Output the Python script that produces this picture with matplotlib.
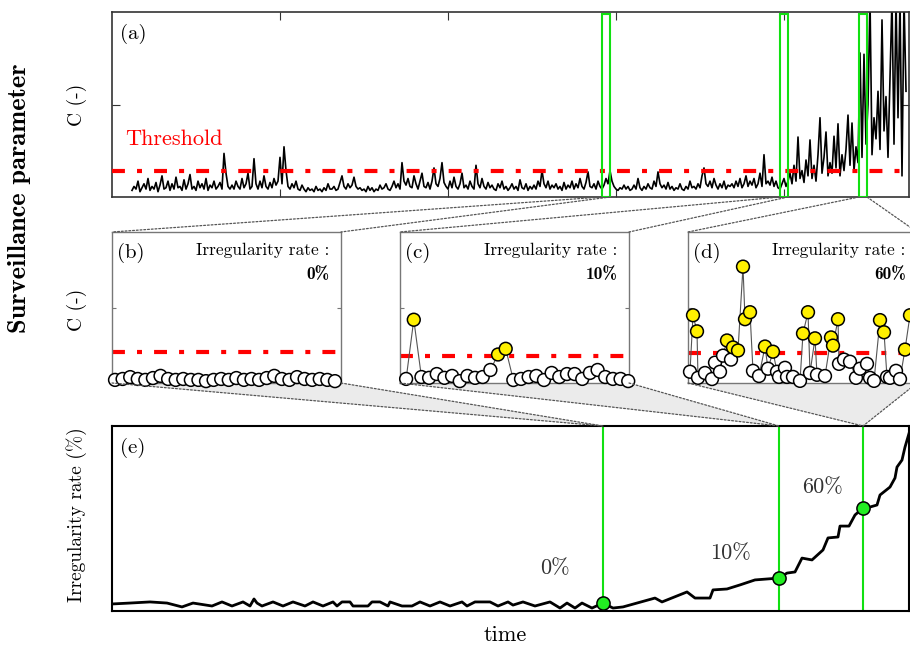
import numpy as np
import matplotlib
matplotlib.use("Agg")
import matplotlib.pyplot as plt
from matplotlib.patches import Rectangle, Polygon, ConnectionPatch

plt.rcParams['font.family'] = ['cmr10', 'DejaVu Serif']
plt.rcParams['axes.unicode_minus'] = False
plt.rcParams['mathtext.fontset'] = 'cm'

# ------------------------------------------------------------------ data
threshold = 1.0

# (a) surveillance parameter C over time (sampled every 2 time units from t=20)
signal_t0 = 20
signal_dt = 2
signal_a = [
    0.25, 0.4, 0.3, 0.6, 0.2, 0.35, 0.5, 0.3, 0.7, 0.25,
    0.4, 0.3, 0.55, 0.2, 0.45, 0.8, 0.3, 0.35, 0.6, 0.25,
    0.5, 0.3, 0.75, 0.35, 0.4, 0.25, 0.65, 0.3, 0.5, 0.85,
    0.3, 0.4, 0.25, 0.6, 0.35, 0.5, 0.3, 0.7, 0.25, 0.45,
    0.35, 0.6, 0.3, 0.4, 0.55, 0.3, 1.65, 0.9, 0.4, 0.3,
    0.45, 0.3, 0.6, 0.4, 0.3, 0.7, 0.35, 0.5, 0.9, 0.3,
    0.4, 1.45, 0.5, 0.3, 0.6, 0.35, 0.8, 0.4, 0.3, 0.55,
    0.35, 0.7, 0.45, 0.6, 1.5, 0.5, 1.9, 1.0, 0.4, 0.3,
    0.5, 0.35, 0.6, 0.3, 0.25, 0.45, 0.3, 0.2, 0.35, 0.25,
    0.3, 0.2, 0.4, 0.25, 0.3, 0.2, 0.35, 0.25, 0.5, 0.3,
    0.3, 0.4, 0.25, 0.3, 0.55, 0.8, 0.4, 0.3, 0.5, 0.35,
    0.45, 0.75, 0.4, 0.3, 0.35, 0.25, 0.3, 0.2, 0.4, 0.25,
    0.35, 0.2, 0.3, 0.25, 0.45, 0.3, 0.35, 0.5, 0.3, 0.25,
    0.4, 0.6, 0.35, 0.5, 0.3, 1.3, 0.6, 0.45, 0.7, 0.4,
    0.35, 0.8, 0.5, 0.3, 0.6, 0.9, 0.4, 0.35, 0.55, 0.3,
    0.6, 1.1, 0.5, 0.4, 0.7, 1.3, 0.55, 0.4, 0.3, 0.6,
    0.35, 0.75, 0.4, 0.3, 0.5, 0.9, 0.35, 0.45, 0.3, 0.6,
    0.4, 0.3, 1.2, 0.5, 0.35, 0.7, 0.4, 0.3, 0.55, 0.35,
    0.45, 0.3, 0.25, 0.5, 0.35, 0.6, 0.3, 0.4, 0.25, 0.35,
    0.5, 0.3, 0.4, 0.25, 0.65, 0.35, 0.3, 0.5, 0.25, 0.4,
    0.3, 0.45, 0.3, 0.6, 0.4, 1.0, 0.5, 0.35, 0.6, 0.3,
    0.45, 0.35, 0.5, 0.3, 0.4, 0.25, 0.55, 0.3, 0.45, 0.35,
    0.6, 0.3, 0.5, 0.35, 0.7, 0.4, 0.3, 0.55, 0.95, 0.4,
    0.35, 0.5, 0.3, 0.6, 0.4, 0.3, 0.45, 0.7, 0.5, 1.0,
    0.6, 0.4, 0.3, 0.25, 0.35, 0.3, 0.45, 0.3, 0.4, 0.25,
    0.3, 0.45, 0.3, 0.7, 0.35, 0.25, 0.4, 0.3, 0.5, 0.35,
    0.3, 0.6, 0.4, 0.95, 0.5, 0.35, 0.45, 0.3, 0.55, 0.3,
    0.4, 0.25, 0.35, 0.3, 0.5, 0.3, 0.25, 0.4, 0.3, 0.6,
    0.35, 0.4, 0.3, 0.5, 0.35, 0.8, 1.1, 0.5, 0.4, 0.6,
    0.35, 0.7, 0.45, 0.3, 0.5, 0.35, 0.6, 0.3, 0.45, 0.4,
    0.5, 0.35, 0.6, 0.4, 0.7, 0.35, 0.5, 0.8, 0.4, 0.6,
    0.45, 0.7, 0.35, 0.5, 0.9, 0.4, 1.6, 0.5, 0.6, 0.45,
    0.75, 0.4, 0.6, 0.35, 0.3, 0.5, 0.7, 0.4, 0.6, 0.9,
    0.5, 1.2, 0.6, 2.27, 0.7, 1.0, 0.55, 1.4, 0.8, 2.16,
    0.7, 1.2, 0.6, 1.6, 3.0, 0.9, 1.5, 2.46, 0.8, 1.3,
    0.9, 2.3, 1.1, 2.77, 0.8, 1.6, 1.0, 1.8, 3.1, 1.2,
    2.8, 1.0, 1.9, 1.3, 5.45, 1.5, 5.4, 2.0, 3.5, 7.5,
    1.6, 3.0, 2.2, 4.0, 1.8, 6.7, 2.5, 3.8, 1.5, 4.5,
    7.5, 2.0, 7.5, 3.0, 7.5, 0.8, 7.5, 4.0,
]
window_starts = [490, 668, 747]
window_width = 8

# (b) window with 0 % irregularity
panel_b_values = [0.10, 0.13, 0.19, 0.13, 0.10, 0.16, 0.23, 0.13, 0.10, 0.13,
                  0.10, 0.10, 0.06, 0.10, 0.13, 0.10, 0.16, 0.10, 0.13, 0.10,
                  0.16, 0.23, 0.13, 0.10, 0.19, 0.13, 0.10, 0.13, 0.10, 0.06]
# (c) window with 10 % irregularity
panel_c_values = [0.15, 2.33, 0.22, 0.19, 0.33, 0.19, 0.26, 0.07, 0.26, 0.19,
                  0.22, 0.48, 1.05, 1.26, 0.11, 0.15, 0.22, 0.26, 0.11, 0.37,
                  0.22, 0.33, 0.33, 0.15, 0.37, 0.48, 0.22, 0.15, 0.15, 0.07]
# (d) window with 60 % irregularity
panel_d_time = [2, 5, 9, 10, 17, 24, 27, 32, 35, 39, 43, 45, 50, 55, 57, 62, 65,
                71, 77, 80, 85, 89, 91, 97, 99, 105, 112, 115, 120, 122, 127,
                129, 137, 143, 145, 150, 151, 156, 162, 168, 172, 179, 182, 186,
                192, 196, 199, 202, 208, 212, 217, 222]
panel_d_values = [0.37, 2.23, 1.70, 0.17, 0.33, 0.13, 0.67, 0.37, 0.90, 1.40,
                  0.77, 1.17, 1.07, 3.83, 2.10, 2.33, 0.40, 0.23, 1.20, 0.47,
                  1.03, 0.37, 0.20, 0.50, 0.20, 0.20, 0.07, 1.63, 2.33, 0.33,
                  1.47, 0.27, 0.23, 1.50, 1.23, 2.10, 0.63, 0.77, 0.70, 0.17,
                  0.47, 0.63, 0.17, 0.07, 2.07, 1.67, 0.20, 0.17, 0.40, 0.13,
                  1.10, 2.23]
window_labels = ['0%', '10%', '60%']

# (e) irregularity rate over time
rate_time = [0, 18, 38, 55, 70, 81, 100, 110, 120, 131, 138, 142, 145, 150, 161,
             171, 181, 193, 201, 211, 221, 225, 230, 238, 241, 256, 260, 268,
             276, 278, 290, 300, 308, 318, 328, 338, 350, 355, 363, 378, 386,
             391, 396, 401, 411, 423, 438, 448, 455, 463, 470, 480, 491, 501,
             511, 543, 550, 575, 583, 598, 601, 615, 628, 643, 667, 675, 683,
             690, 700, 711, 716, 726, 728, 737, 743, 751, 758, 765, 768, 778,
             783, 785, 790, 793, 798]
rate_values = [3.8, 4.3, 4.9, 4.3, 2.2, 4.3, 2.7, 4.9, 2.7, 4.9, 2.7, 6.5, 4.3,
               2.7, 4.9, 2.7, 4.9, 2.7, 4.9, 2.7, 4.9, 2.7, 4.9, 4.9, 2.7, 2.7,
               4.9, 4.9, 2.7, 4.9, 2.7, 2.7, 4.9, 2.7, 4.9, 2.7, 4.9, 2.7, 4.9,
               4.9, 2.7, 3.8, 4.9, 3.2, 4.9, 2.7, 4.9, 1.6, 4.3, 1.6, 4.3, 1.6,
               4.3, 1.6, 2.2, 7.0, 4.9, 10.3, 7.0, 7.0, 11.4, 11.9, 14.1, 16.8,
               17.8, 20.5, 21.1, 28.6, 27.6, 33.0, 39.5, 40.0, 45.9, 45.9, 51.9,
               55.7, 56.2, 57.3, 62.7, 67.0, 71.9, 77.8, 81.6, 88.6, 97.8]
mark_time = [491, 667, 751]
mark_rate = [4.3, 17.8, 55.7]

# ------------------------------------------------------------------ styles
GREEN = '#11e011'
RED = '#ff0000'
YELLOW = '#fff000'
DASHDOT = (0, (3.1, 2.9, 1.2, 2.9))
W, H = 910, 647

fig = plt.figure(figsize=(W / 100, H / 100), dpi=100)


def px_axes(x0, y0, x1, y1):
    return fig.add_axes([x0 / W, 1 - y1 / H, (x1 - x0) / W, (y1 - y0) / H])


ax_a = px_axes(112, 12, 909, 197)
ax_b = px_axes(112, 232, 341, 383)
ax_c = px_axes(400, 232, 629, 383)
ax_d = px_axes(688, 232, 917, 383)
ax_e = px_axes(112, 426, 909, 611)

# ---------------- (a)
ta = signal_t0 + signal_dt * np.arange(len(signal_a))
ax_a.plot(ta, signal_a, color='black', lw=1.2, zorder=2)
ax_a.axhline(threshold, color=RED, lw=3, ls=DASHDOT, zorder=3)
ax_a.set_xlim(0, 797)
ax_a.set_ylim(0, 7)
for ws in window_starts:
    ax_a.add_patch(Rectangle((ws, 0), window_width, 6.92, fill=False,
                             ec=GREEN, lw=1.5, zorder=4))
ax_a.set_xticks([168, 336, 504, 672])
ax_a.set_yticks([3.5])
ax_a.tick_params(direction='in', top=True, right=True, length=6,
                 labelbottom=False, labelleft=False, color='#333')
for s in ax_a.spines.values():
    s.set_color('#333')
    s.set_linewidth(1.2)
ax_a.text(0.01, 0.88, '(a)', transform=ax_a.transAxes, fontsize=15,
          ha='left', va='center')
ax_a.text(0.016, 0.31, 'Threshold', transform=ax_a.transAxes, fontsize=16,
          color=RED, ha='left', va='center')


# ---------------- (b), (c), (d)
def zoom_panel(ax, x, vals, xlim, ymax, letter, label):
    x = np.asarray(x, float)
    vals = np.asarray(vals, float)
    ax.plot(x, vals, color='#555', lw=0.8, zorder=2, clip_on=False)
    ax.axhline(threshold, color=RED, lw=3, ls=DASHDOT, zorder=1)
    above = vals > threshold
    colors = np.where(above, YELLOW, 'white')
    ax.scatter(x, vals, s=85, c=colors, edgecolors='black', linewidths=1.1,
               zorder=3, clip_on=False)
    ax.set_xlim(*xlim)
    ax.set_ylim(0, ymax)
    ax.set_xticks([])
    ax.set_yticks([ymax / 2])
    ax.tick_params(direction='in', left=True, right=True, length=3,
                   labelleft=False, color='#777')
    for s in ax.spines.values():
        s.set_color('#777')
        s.set_linewidth(1.0)
    ax.text(0.02, 0.86, letter, transform=ax.transAxes, fontsize=15,
            ha='left', va='center')
    ax.text(0.95, 0.88, 'Irregularity rate :', transform=ax.transAxes,
            fontsize=12.5, ha='right', va='center')
    ax.text(0.95, 0.715, label, transform=ax.transAxes, fontsize=12.5,
            ha='right', va='center', family=['cmb10', 'DejaVu Serif'])


zoom_panel(ax_b, np.arange(len(panel_b_values)), panel_b_values,
           (-0.4, 29.8), 4.87, '(b)', window_labels[0])
zoom_panel(ax_c, np.arange(len(panel_c_values)), panel_c_values,
           (-0.8, 29.1), 5.56, '(c)', window_labels[1])
zoom_panel(ax_d, panel_d_time, panel_d_values,
           (0, 229), 4.97, '(d)', window_labels[2])

# ---------------- (e)
ax_e.plot(rate_time, rate_values, color='black', lw=2, zorder=3)
for mt in mark_time:
    ax_e.axvline(mt, color=GREEN, lw=1.5, zorder=2)
ax_e.scatter(mark_time, mark_rate, s=90, color='#22ee22', edgecolors='black',
             linewidths=1.1, zorder=4)
ax_e.set_xlim(0, 797)
ax_e.set_ylim(0, 100)
ax_e.set_xticks([])
ax_e.set_yticks([])
for s in ax_e.spines.values():
    s.set_color('black')
    s.set_linewidth(1.5)
ax_e.text(0.01, 0.88, '(e)', transform=ax_e.transAxes, fontsize=15,
          ha='left', va='center')
label_pos = [(443, 23.2), (618, 31.4), (711, 67.0)]
for (lx, ly), lab in zip(label_pos, window_labels):
    ax_e.text(lx, ly, lab, fontsize=16, color='#333', ha='center', va='center')

# ---------------- connectors
DOT = (0, (1.5, 1.5))
for ws, axz in zip(window_starts, [ax_b, ax_c, ax_d]):
    for xa, xb in [(ws, 0), (ws + window_width, 1)]:
        con = ConnectionPatch(xyA=(xa, 0), coordsA='data', axesA=ax_a,
                              xyB=(xb, 1), coordsB='axes fraction', axesB=axz,
                              color='#555', lw=0.9, ls=DOT)
        fig.add_artist(con)

inv = fig.transFigure.inverted()
for mt, axz in zip(mark_time, [ax_b, ax_c, ax_d]):
    p1 = inv.transform(axz.transAxes.transform((0, 0)))
    p2 = inv.transform(axz.transAxes.transform((1, 0)))
    p3 = inv.transform(ax_e.transData.transform((mt, 100)))
    poly = Polygon([p1, p2, p3], closed=True, transform=fig.transFigure,
                   facecolor='#ebebeb', edgecolor='none', zorder=-1)
    fig.add_artist(poly)
    for xc in (0, 1):
        con = ConnectionPatch(xyA=(xc, 0), coordsA='axes fraction', axesA=axz,
                              xyB=(mt, 100), coordsB='data', axesB=ax_e,
                              color='#555', lw=0.9, ls=DOT)
        fig.add_artist(con)

# ---------------- outer labels
fig.text(20 / W, 1 - 198 / H, 'Surveillance parameter', rotation=90,
         fontsize=19, ha='center', va='center', family=['cmb10', 'DejaVu Serif'])
fig.text(77 / W, 1 - 105 / H, 'C (-)', rotation=90, fontsize=14,
         ha='center', va='center')
fig.text(77 / W, 1 - 310 / H, 'C (-)', rotation=90, fontsize=14,
         ha='center', va='center')
fig.text(77 / W, 1 - 515 / H, 'Irregularity rate (%)', rotation=90, fontsize=14,
         ha='center', va='center')
fig.text(505 / W, 1 - 635 / H, 'time', fontsize=16, ha='center', va='center')

fig.savefig('out.png', dpi=100)
